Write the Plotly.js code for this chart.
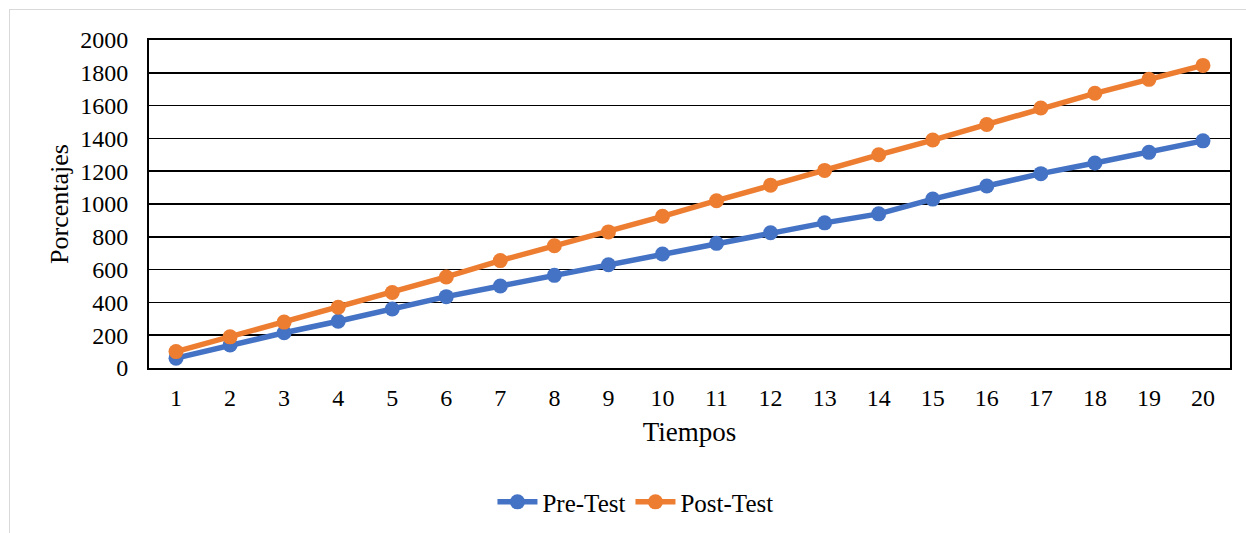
<!DOCTYPE html>
<html>
<head>
<meta charset="utf-8">
<script src="https://cdn.plot.ly/plotly-3.0.1.min.js"></script>
<style>
html,body{margin:0;padding:0;background:#fff;}
#wrap{position:relative;width:1246px;height:533px;overflow:hidden;}
#chart{position:absolute;left:0;top:0;width:1246px;height:533px;}
#frame{position:absolute;left:9px;top:9px;width:1250px;height:540px;border:1px solid #d9d9d9;pointer-events:none;}
</style>
</head>
<body>
<div id="wrap"><div id="chart"></div><div id="frame"></div></div>
<script>
const tiempos = [1,2,3,4,5,6,7,8,9,10,11,12,13,14,15,16,17,18,19,20];
const tickLabels = ["1","2","3","4","5","6","7","8","9","10","11","12","13","14","15","16","17","18","19","20"];
const preTest = [60,140,215,285,360,435,500,565,630,695,760,825,885,940,1030,1110,1185,1250,1315,1385];
const postTest = [100,190,280,370,460,555,655,745,830,925,1020,1115,1205,1300,1390,1485,1585,1675,1760,1845];
const yTicks = [0,200,400,600,800,1000,1200,1400,1600,1800,2000];

const font = "'Liberation Serif', 'Times New Roman', serif";

const traces = [
  {x: tiempos, y: preTest, name: "Pre-Test", type: "scatter", mode: "lines+markers",
   line: {color: "#4472C4", width: 5.5}, marker: {color: "#4472C4", size: 15}},
  {x: tiempos, y: postTest, name: "Post-Test", type: "scatter", mode: "lines+markers",
   line: {color: "#ED7D31", width: 5.5}, marker: {color: "#ED7D31", size: 15}}
];

const layout = {
  width: 1246, height: 533,
  margin: {l: 149, r: 16, t: 40, b: 165, pad: 0},
  paper_bgcolor: "rgba(0,0,0,0)", plot_bgcolor: "#fff",
  font: {family: font, size: 24, color: "#000"},
  showlegend: true,
  legend: {orientation: "h", x: 0.51, xanchor: "center", xref: "container", y: 0.058, yanchor: "middle", yref: "container",
           font: {family: font, size: 25, color: "#000"}, itemwidth: 40, tracegroupgap: 0},
  xaxis: {
    range: [0.5, 20.5], tickmode: "array", tickvals: tiempos, ticktext: tickLabels,
    showgrid: false, zeroline: false, showline: true, linecolor: "#000", linewidth: 2, mirror: true,
    ticks: "", ticklabelstandoff: 7, tickfont: {family: font, size: 24, color: "#000"},
    title: {text: "Tiempos", font: {family: font, size: 27, color: "#000"}, standoff: 12}
  },
  yaxis: {
    range: [0, 2000], tickmode: "array", tickvals: yTicks,
    showgrid: true, gridcolor: "#000", gridwidth: 1.5, zeroline: false,
    showline: true, linecolor: "#000", linewidth: 2, mirror: true,
    ticks: "", ticklabelstandoff: 14, tickfont: {family: font, size: 24, color: "#000"},
    title: {text: "Porcentajes", font: {family: font, size: 26, color: "#000"}, standoff: 4}
  }
};

Plotly.newPlot("chart", traces, layout, {displayModeBar: false, staticPlot: true});
</script>
</body>
</html>
